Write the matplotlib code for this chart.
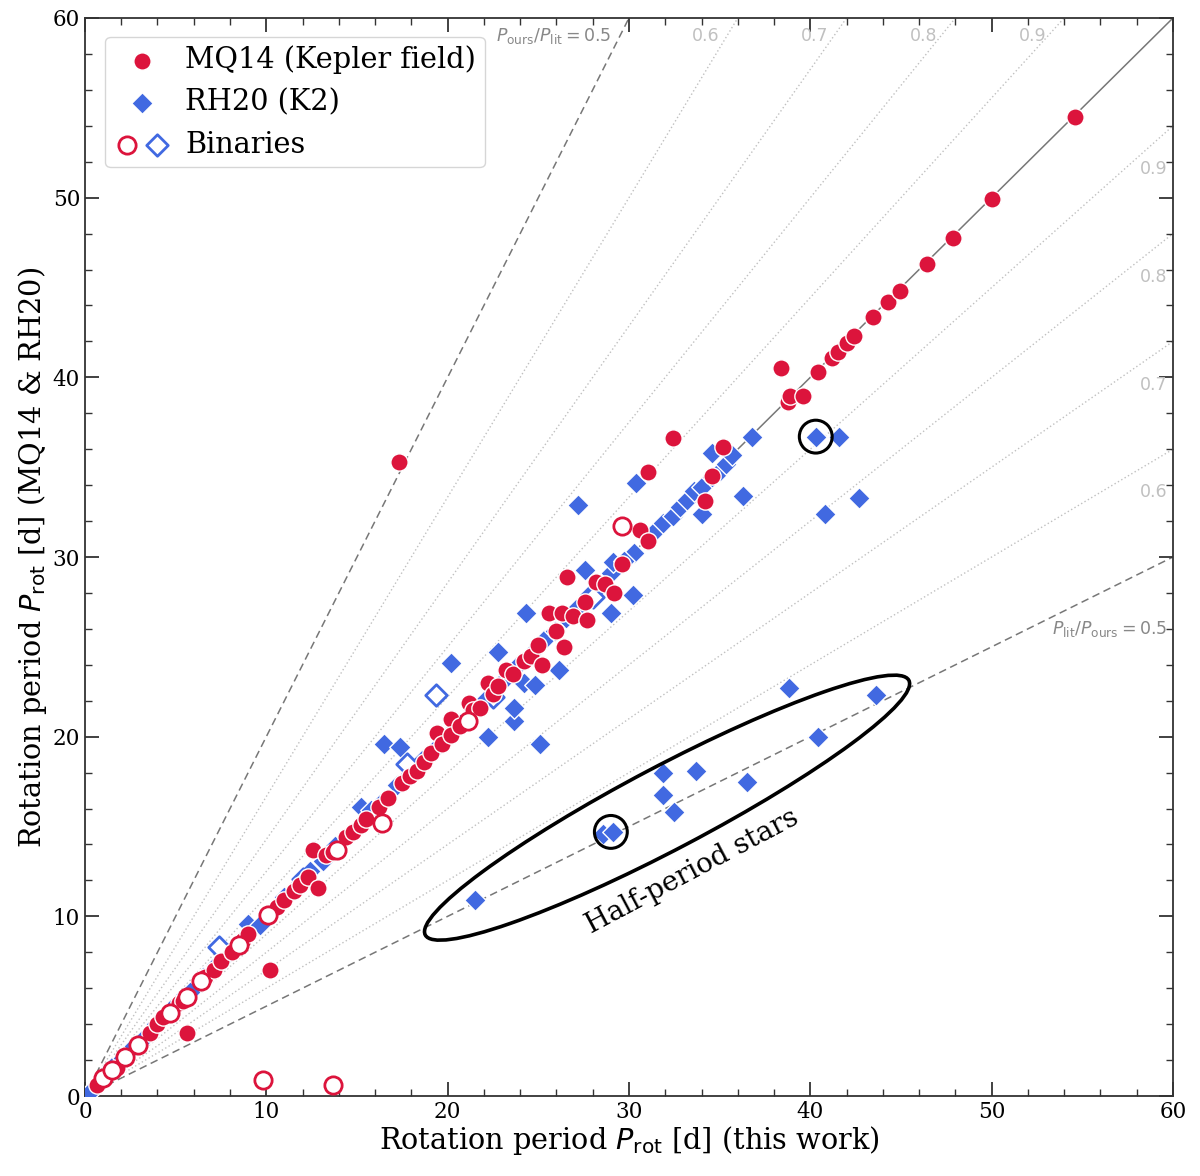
import matplotlib
matplotlib.use("Agg")
import matplotlib.pyplot as plt
import numpy as np
from matplotlib.patches import Ellipse
from matplotlib.legend_handler import HandlerTuple

plt.rcParams['font.family'] = ['DejaVu Serif']
plt.rcParams['mathtext.fontset'] = 'dejavusans'

RED = '#dc143c'
BLUE = '#4169e1'

# MQ14 (Kepler field), single stars: (this work, literature)
mq_x = [0.66, 1.75, 3.6, 4.0, 4.3, 5.2, 5.4, 5.6, 6.4, 6.6, 7.1, 7.5, 8.1, 8.7, 9.0,
        10.2, 10.6, 11.0, 11.5, 11.85, 12.3, 12.85, 12.6, 13.3, 13.7, 14.4, 14.8, 15.2,
        15.5, 16.2, 16.7, 17.3, 17.5, 17.9, 18.3, 18.7, 19.1, 19.4, 19.7, 20.2, 20.2,
        20.7, 21.2, 21.4, 21.8, 22.2, 22.5, 22.8, 23.2, 23.6, 24.2, 24.6, 25.2, 25.0,
        25.6, 26.0, 26.3, 26.4, 26.6, 26.9, 27.6, 27.7, 28.2, 28.7, 29.2, 29.6, 30.6,
        31.05, 31.05, 32.4, 34.2, 34.6, 35.2, 38.4, 38.75, 38.9, 39.6, 40.4, 41.2, 41.5,
        42.0, 42.4, 43.45, 44.3, 44.95, 46.45, 47.85, 50.0, 54.6]
mq_y = [0.6, 1.55, 3.5, 4.0, 4.4, 5.2, 5.3, 3.5, 6.45, 6.6, 7.0, 7.5, 8.0, 8.7, 9.0,
        7.0, 10.5, 10.9, 11.4, 11.75, 12.2, 11.6, 13.7, 13.4, 13.6, 14.4, 14.7, 15.1,
        15.4, 16.1, 16.6, 35.3, 17.4, 17.8, 18.1, 18.6, 19.1, 20.2, 19.6, 21.0, 20.1,
        20.6, 21.9, 21.5, 21.6, 23.0, 22.4, 22.8, 23.7, 23.5, 24.2, 24.5, 24.0, 25.1,
        26.9, 25.9, 26.9, 25.0, 28.9, 26.7, 27.5, 26.5, 28.6, 28.5, 28.0, 29.6, 31.5,
        30.9, 34.75, 36.6, 33.1, 34.5, 36.1, 40.5, 38.65, 38.95, 38.96, 40.3, 41.1, 41.4,
        41.9, 42.3, 43.35, 44.2, 44.8, 46.3, 47.75, 49.9, 54.5]

# MQ14 binaries
mq_bin_x = [1.0, 1.5, 2.2, 2.9, 4.7, 5.6, 6.4, 8.5, 10.1, 13.9, 16.4, 21.1, 29.6, 9.8, 13.7]
mq_bin_y = [1.0, 1.45, 2.2, 2.85, 4.6, 5.5, 6.4, 8.4, 10.05, 13.7, 15.2, 20.9, 31.7, 0.9, 0.6]

# RH20 (K2), single stars
rh_x = [0.3, 0.9, 1.5, 2.1, 2.7, 3.3, 3.9, 4.5, 5.1, 5.8, 6.5, 7.2, 7.9, 8.6, 9.0, 9.65,
        10.3, 11.0, 11.7, 12.4, 13.1, 13.8, 14.5, 15.2, 15.8, 16.5, 17.2, 17.9, 18.6,
        19.3, 20.0, 20.7, 21.4, 22.0, 22.7, 23.3, 24.0, 24.6, 25.3, 25.9, 26.5, 27.1,
        27.8, 28.4, 29.0, 29.7, 30.3, 31.5, 31.9, 32.4, 32.8, 33.2, 33.6, 34.0, 34.6,
        35.0, 35.35, 35.7, 36.8,
        16.5, 17.4, 20.2, 22.2, 22.8, 23.65, 23.65, 24.2, 24.3, 24.8, 25.1, 26.15, 27.2,
        27.6, 29.0, 30.2, 30.4, 34.0, 34.6, 36.3, 40.3, 41.6, 40.8, 42.7, 29.1, 29.7,
        21.5, 28.55, 29.1, 31.9, 31.9, 32.5, 33.7, 36.5, 38.8, 40.4, 43.6]
rh_y = [0.2, 0.9, 1.6, 2.1, 2.8, 3.3, 4.0, 4.5, 5.2, 5.8, 6.6, 7.3, 7.9, 8.7, 9.6, 9.5,
        10.3, 11.1, 11.7, 12.5, 13.1, 13.9, 14.5, 16.1, 15.9, 16.5, 17.3, 17.9, 18.7,
        19.3, 20.1, 20.7, 21.5, 22.0, 22.8, 23.3, 24.1, 24.6, 25.4, 25.9, 26.6, 27.1,
        27.9, 28.4, 29.1, 29.8, 30.2, 31.5, 31.9, 32.3, 32.8, 33.2, 33.7, 33.9, 34.45,
        34.8, 35.2, 35.7, 36.7,
        19.6, 19.4, 24.1, 20.0, 24.7, 20.9, 21.6, 23.0, 26.9, 22.9, 19.6, 23.7, 32.9,
        29.3, 26.9, 27.9, 34.1, 32.4, 35.8, 33.4, 36.7, 36.7, 32.4, 33.3, 29.7, 29.8,
        10.9, 14.6, 14.7, 18.0, 16.75, 15.8, 18.1, 17.5, 22.7, 20.0, 22.3]

# RH20 binaries
rh_bin_x = [7.4, 12.0, 17.75, 19.35, 22.5, 28.0]
rh_bin_y = [8.3, 12.1, 18.5, 22.3, 22.2, 27.8]

ratios = [0.5, 0.6, 0.7, 0.8, 0.9]
highlight_x = [40.3, 29.0]
highlight_y = [36.7, 14.7]


def draw_guides(ax):
    xs = np.array([0, 60])
    ax.plot(xs, xs, color='#777777', lw=1.1, zorder=1)
    for r in ratios:
        style = dict(color='#777777', lw=1.1, ls=(0, (5, 3))) if r == 0.5 else \
            dict(color='#c0c0c0', lw=1.0, ls=(0, (1, 1.8)))
        ax.plot(xs * r, xs, zorder=1, **style)
        ax.plot(xs, xs * r, zorder=1, **style)
        tcol = '#888888' if r == 0.5 else '#c0c0c0'
        top = r"$P_{\rm ours}/P_{\rm lit} = 0.5$" if r == 0.5 else "%.1f" % r
        side = r"$P_{\rm lit}/P_{\rm ours} = 0.5$" if r == 0.5 else "%.1f" % r
        ax.text(60 * r - 1.0, 59.0, top, ha='right', va='center', fontsize=12.5,
                color=tcol, family='DejaVu Sans')
        ys = 26.0 if r == 0.5 else 60 * r - 2.4
        ax.text(59.7, ys, side, ha='right', va='center', fontsize=12.5,
                color=tcol, family='DejaVu Sans')


def main():
    fig = plt.figure(figsize=(12, 11.76), dpi=100)
    ax = fig.add_axes([0.0708, 0.068, 0.9067, 0.9167])
    draw_guides(ax)

    h_rh = ax.scatter(rh_x, rh_y, marker='D', s=120, c=BLUE, edgecolors='white',
                      linewidths=1.0, zorder=3)
    h_rhb = ax.scatter(rh_bin_x, rh_bin_y, marker='D', s=120, facecolors='white',
                       edgecolors=BLUE, linewidths=2.0, zorder=3)
    h_mq = ax.scatter(mq_x, mq_y, marker='o', s=155, c=RED, edgecolors='white',
                      linewidths=1.0, zorder=4)
    h_mqb = ax.scatter(mq_bin_x, mq_bin_y, marker='o', s=155, facecolors='white',
                       edgecolors=RED, linewidths=2.0, zorder=4)

    ax.scatter(highlight_x, highlight_y, marker='o', s=560, facecolors='none',
               edgecolors='black', linewidths=2.2, zorder=5)
    ax.add_patch(Ellipse((32.1, 16.05), width=30.2, height=4.6, angle=28.0,
                         fill=False, edgecolor='black', lw=2.6, zorder=5))
    ax.text(33.5, 12.5, "Half-period stars", rotation=28, fontsize=20,
            ha='center', va='center', rotation_mode='anchor')

    ax.set_xlim(0, 60)
    ax.set_ylim(0, 60)
    ax.set_xticks(np.arange(0, 61, 10))
    ax.set_yticks(np.arange(0, 61, 10))
    ax.set_xticks(np.arange(0, 61, 2), minor=True)
    ax.set_yticks(np.arange(0, 61, 2), minor=True)
    ax.tick_params(which='both', direction='in', top=True, right=True,
                   color='#333333', labelsize=15.5)
    ax.tick_params(which='major', length=10, width=1.3)
    ax.tick_params(which='minor', length=5, width=1.0)
    for sp in ax.spines.values():
        sp.set_color('#333333')
        sp.set_linewidth(1.3)

    ax.set_xlabel(r"Rotation period $P_{\rm rot}$ [d] (this work)", fontsize=20.7, labelpad=1)
    ax.set_ylabel(r"Rotation period $P_{\rm rot}$ [d] (MQ14 & RH20)", fontsize=20.7, labelpad=3)

    ax.legend([h_mq, h_rh, (h_mqb, h_rhb)],
              ["MQ14 (Kepler field)", "RH20 (K2)", "Binaries"],
              handler_map={tuple: HandlerTuple(ndivide=None, pad=0.1)},
              loc='upper left', fontsize=20.7, borderpad=0.3, labelspacing=0.5,
              handletextpad=0.5, bbox_to_anchor=(0.005, 0.996))

    fig.savefig("out.png", dpi=100)


if __name__ == "__main__":
    main()
